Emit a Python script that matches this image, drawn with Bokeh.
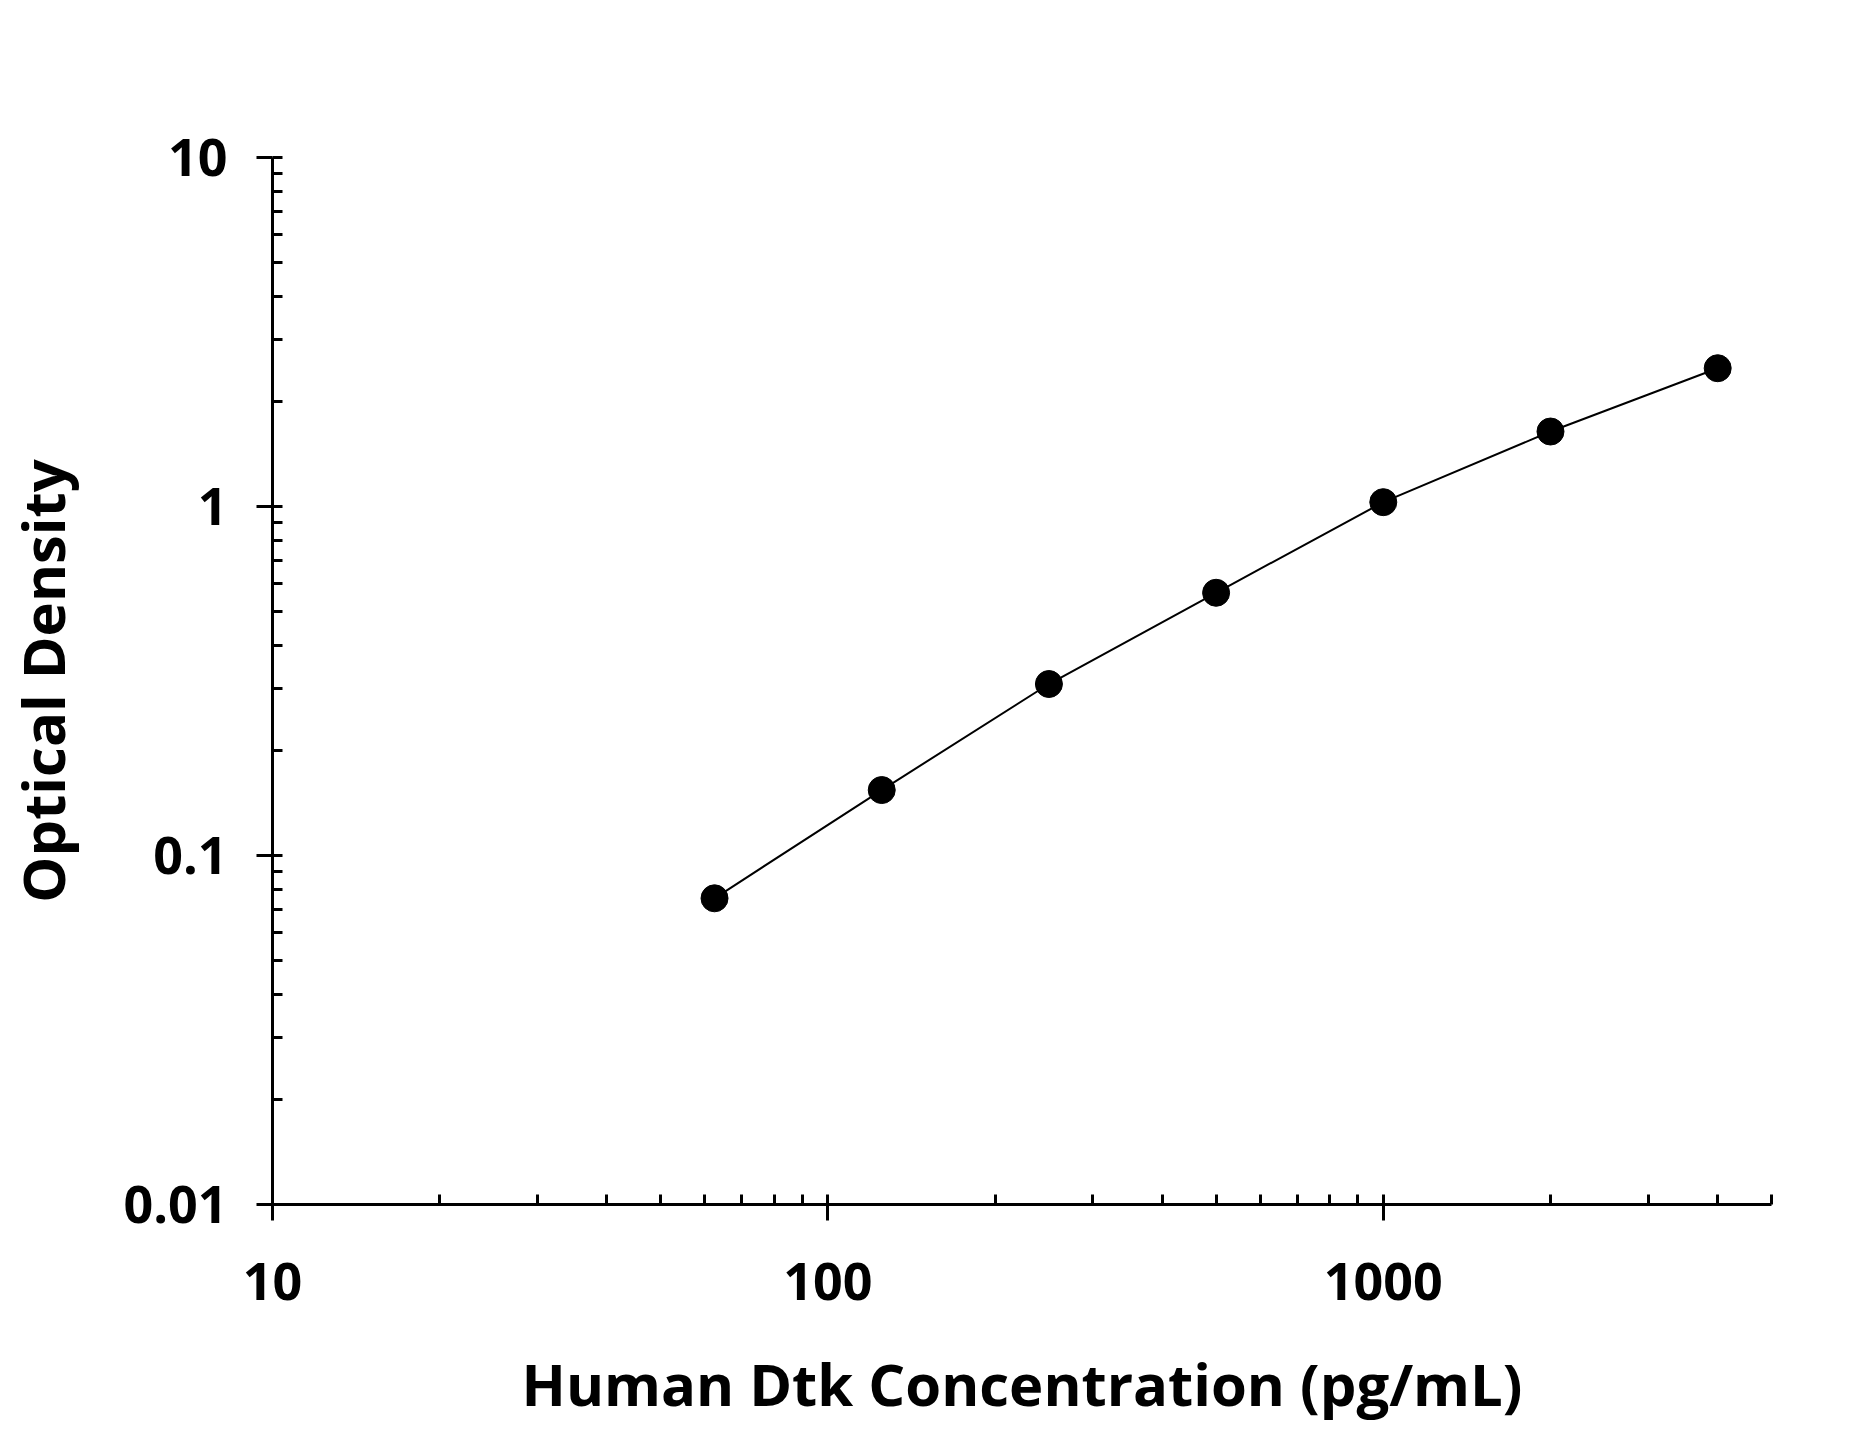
from bokeh.plotting import figure
from bokeh.models import ColumnDataSource, Range1d
from bokeh.embed import file_html
from bokeh.resources import INLINE

# standard curve: concentration (pg/mL) vs optical density
concentration = [62.5, 125, 250, 500, 1000, 2000, 4000]
optical_density = [0.0754, 0.154, 0.310, 0.566, 1.029, 1.640, 2.490]

FONT = "Open Sans"

p = figure(width=1851, height=1433,
           x_axis_type="log", y_axis_type="log",
           x_range=Range1d(10, 5000), y_range=Range1d(0.01, 10),
           output_backend="svg", toolbar_location=None,
           min_border_left=270, min_border_right=80,
           min_border_top=157, min_border_bottom=229)

p.outline_line_color = None
p.xgrid.visible = False
p.ygrid.visible = False

src = ColumnDataSource(data=dict(x=concentration, y=optical_density))
p.line(x="x", y="y", source=src, line_color="black", line_width=2)
p.scatter(x="x", y="y", source=src, size=27, fill_color="black", line_color="black")

for ax in (p.xaxis[0], p.yaxis[0]):
    ax.axis_line_width = 3
    ax.axis_line_color = "black"
    ax.major_tick_line_width = 3
    ax.minor_tick_line_width = 3
    ax.major_tick_in = 0
    ax.major_tick_out = 16
    ax.minor_tick_in = 10
    ax.minor_tick_out = 0
    ax.major_label_text_font = FONT
    ax.major_label_text_font_style = "bold"
    ax.major_label_text_font_size = "52px"
    ax.major_label_text_color = "black"
    ax.axis_label_text_font = FONT
    ax.axis_label_text_font_style = "bold"
    ax.axis_label_text_font_size = "58px"
    ax.axis_label_text_color = "black"

p.xaxis.axis_label = "Human Dtk Concentration (pg/mL)"
p.yaxis.axis_label = "Optical Density"
p.xaxis.major_label_standoff = 42
p.yaxis.major_label_standoff = 29
p.xaxis.axis_label_standoff = 41
p.yaxis.axis_label_standoff = 38
p.xaxis.major_label_overrides = {10: "10", 100: "100", 1000: "1000"}
p.yaxis.major_label_overrides = {0.01: "0.01", 0.1: "0.1", 1: "1", 10: "10"}

open("out.html", "w").write(file_html(p, INLINE))
